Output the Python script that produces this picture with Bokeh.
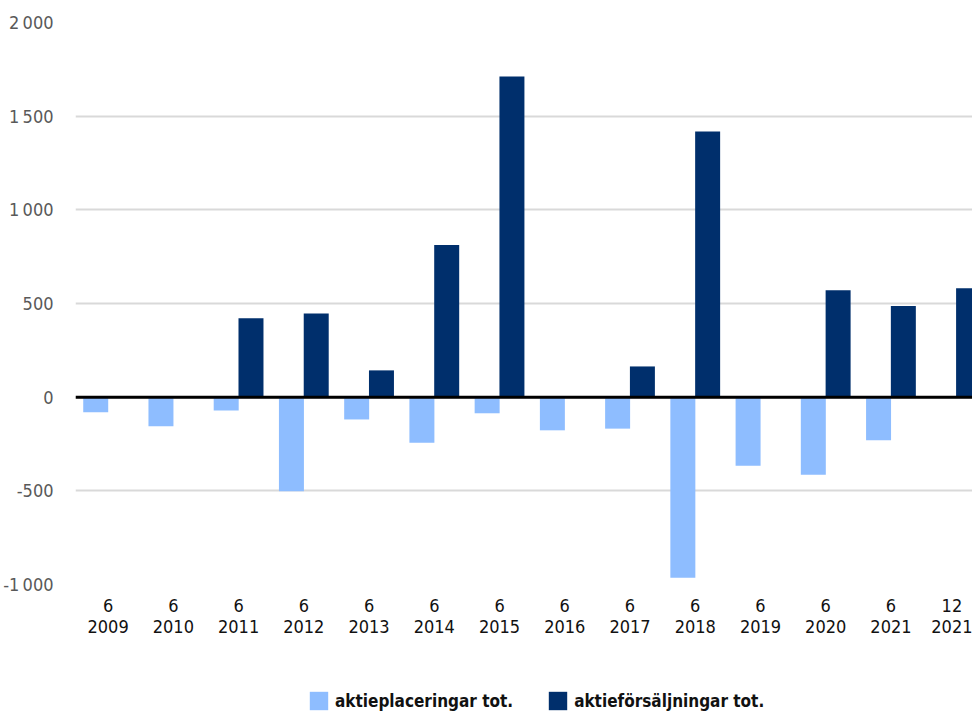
from bokeh.plotting import figure
from bokeh.models import ColumnDataSource, Range1d, FixedTicker, Span, Legend, LegendItem
from bokeh.layouts import column
from bokeh.transform import dodge
from bokeh.embed import file_html
from bokeh.resources import INLINE

# ---- data ----
months = ["6", "6", "6", "6", "6", "6", "6", "6", "6", "6", "6", "6", "6", "12"]
years = ["2009", "2010", "2011", "2012", "2013", "2014", "2015", "2016", "2017",
         "2018", "2019", "2020", "2021", "2021"]
placeringar = [-80, -155, -71, -502, -119, -243, -86, -177, -168, -964, -366, -414, -230, 0]
forsaljningar = [0, 0, 421, 447, 143, 812, 1712, 0, 164, 1418, 0, 571, 486, 582]
y_ticks = [-1000, -500, 0, 500, 1000, 1500, 2000]
y_tick_labels = ["-1\u2009000", "-500", "0", "500", "1\u2009000", "1\u2009500", "2\u2009000"]
series_names = ["aktieplaceringar tot.", "aktieförsäljningar tot."]

LIGHT = "#8EBDFF"
DARK = "#002F6C"
FONT = "'DejaVu Sans Condensed', Roboto, sans-serif"

idx = list(range(len(years)))
src = ColumnDataSource(dict(x=idx, p=placeringar, f=forsaljningar))

p = figure(width=972, height=674, output_backend="svg", toolbar_location=None,
           x_range=Range1d(-0.5, 13.25), y_range=Range1d(-1000, 2000),
           min_border_left=74, min_border_right=0, min_border_top=22, min_border_bottom=90)
p.outline_line_color = None
p.background_fill_color = "white"
p.border_fill_color = "white"

r1 = p.vbar(x=dodge("x", -0.19, range=p.x_range), top="p", bottom=0, width=0.383,
            source=src, fill_color=LIGHT, line_color=None)
r2 = p.vbar(x=dodge("x", 0.19, range=p.x_range), top="f", bottom=0, width=0.383,
            source=src, fill_color=DARK, line_color=None)

p.add_layout(Span(location=0, dimension="width", line_color="black", line_width=3))

# axes
p.xgrid.grid_line_color = None
p.ygrid.grid_line_color = "#D9D9D9"
p.ygrid.grid_line_width = 2
p.yaxis.ticker = FixedTicker(ticks=y_ticks)
p.yaxis.major_label_overrides = {t: l for t, l in zip(y_ticks, y_tick_labels)}
p.xaxis.ticker = FixedTicker(ticks=idx)
p.xaxis.major_label_overrides = {i: f"{m}\n{y}" for i, m, y in zip(idx, months, years)}

for ax in (p.xaxis, p.yaxis):
    ax.axis_line_color = None
    ax.major_tick_line_color = None
    ax.minor_tick_line_color = None
    ax.major_tick_out = 0
    ax.major_tick_in = 0
    ax.minor_tick_out = 0
    ax.major_label_text_font = FONT
    ax.major_label_text_font_size = "18px"

p.yaxis.major_label_text_color = "#595959"
p.yaxis.major_label_standoff = 22
p.xaxis.major_label_text_color = "#111111"
p.xaxis.major_label_standoff = 10
p.xaxis.major_label_text_line_height = 1.0

# ---- legend strip (frame aligned with the chart above) ----
lg = figure(width=972, height=38, output_backend="svg", toolbar_location=None,
            x_axis_type=None, y_axis_type=None, min_border=0,
            x_range=Range1d(-0.5, 13.25), y_range=Range1d(0, 1))
lg.outline_line_color = None
lg.xgrid.grid_line_color = None
lg.ygrid.grid_line_color = None
# zero-height bars: invisible, only supply the legend swatches
g1 = lg.vbar(x="x", top=0, bottom=0, width=0.383, source=src, fill_color=LIGHT, line_color=None)
g2 = lg.vbar(x="x", top=0, bottom=0, width=0.383, source=src, fill_color=DARK, line_color=None)
legend = Legend(items=[LegendItem(label=series_names[0], renderers=[g1]),
                       LegendItem(label=series_names[1], renderers=[g2])],
                orientation="horizontal", location=(232, 0),
                glyph_width=23, glyph_height=23, label_standoff=5, spacing=33,
                padding=0, margin=0, border_line_color=None, background_fill_alpha=0,
                label_text_font=FONT, label_text_font_style="bold",
                label_text_font_size="17px", label_text_color="#111111")
lg.add_layout(legend, "center")

open("out.html", "w").write(file_html(column(p, lg), INLINE))
